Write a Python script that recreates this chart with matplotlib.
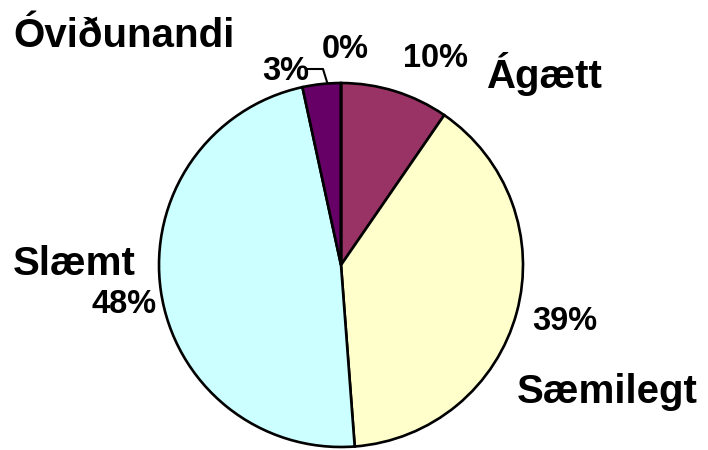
import matplotlib.pyplot as plt

# slice data, clockwise from 12 o'clock
categories = ['Ágætt', 'Sæmilegt', 'Slæmt', 'Óviðunandi', '']
values = [9.6, 39.2, 47.8, 3.4, 0.0]
colors = ['#993366', '#FFFFCC', '#CCFFFF', '#660066', '#FF8080']

# label placement in pixel coords (left x, baseline y from top)
name_pos = [(486, 88), (517, 403), (13, 275), (13, 47), None]
pct_pos = [(403, 67), (532, 330), (92, 313), (262, 80), (322, 58)]

W, H = 708, 450
plt.rcParams['font.family'] = ['Liberation Sans', 'DejaVu Sans']

fig = plt.figure(figsize=(W / 100, H / 100), dpi=100)
ax = fig.add_axes([0, 0, 1, 1])

ax.pie(values, colors=colors, startangle=90, counterclock=False,
       center=(341, H - 265), radius=182, frame=True,
       wedgeprops=dict(edgecolor='black', linewidth=1.9))
ax.set_xlim(0, W)
ax.set_ylim(0, H)
ax.axis('off')

total = sum(values)
for name, val, npos, ppos in zip(categories, values, name_pos, pct_pos):
    if npos is not None and name:
        ax.text(npos[0], H - npos[1], name, fontsize=29, fontweight='bold',
                ha='left', va='baseline')
    ax.text(ppos[0], H - ppos[1], f'{round(val / total * 100):.0f}%',
            fontsize=23.5, fontweight='bold', ha='left', va='baseline')

# leader line for the small slice label
ax.plot([308, 323, 327], [H - 69, H - 69, H - 82], color='black', lw=1.5)

fig.savefig('out.png', dpi=100)
